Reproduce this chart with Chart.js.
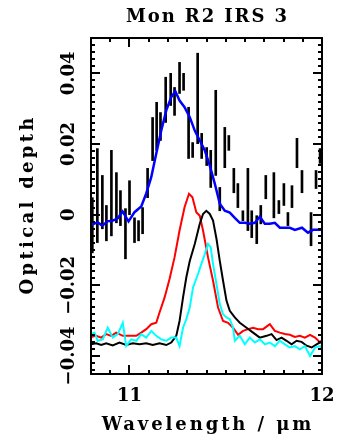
<!DOCTYPE html>
<html>
<head>
<meta charset="utf-8">
<script src="https://cdn.jsdelivr.net/npm/chart.js@4"></script>
<style>
  html, body { margin: 0; padding: 0; background: #fff; }
  canvas { display: block; }
</style>
</head>
<body>
<canvas id="chart" width="339" height="441"></canvas>
<script>
const titleText = 'Mon R2 IRS 3';
const xTitle = 'Wavelength / \u03bcm';
const yTitle = 'Optical depth';
const xTicks = [11, 12];
const yTicks = [-0.04, -0.02, 0, 0.02, 0.04];

// observed spectrum: low/high end of each error bar
const obsWave = [10.807, 10.833, 10.859, 10.880, 10.906, 10.932, 10.953, 10.979, 11.000, 11.026,
  11.047, 11.068, 11.094, 11.120, 11.141, 11.161, 11.188, 11.214, 11.234, 11.260,
  11.281, 11.307, 11.328, 11.354, 11.375, 11.401, 11.422, 11.448, 11.469, 11.495,
  11.516, 11.542, 11.563, 11.589, 11.615, 11.635, 11.661, 11.682, 11.708, 11.750,
  11.776, 11.802, 11.823, 11.844, 11.870, 11.896, 11.943, 11.969, 11.990];
const obsLow = [-0.0108, -0.0079, -0.0040, -0.0074, -0.0060, -0.0023, -0.0031, -0.0125, 0.0000, -0.0079,
  -0.0074, -0.0054, 0.0048, 0.0153, 0.0182, 0.0210, 0.0261, 0.0309, 0.0281, 0.0343,
  0.0352, 0.0159, 0.0162, 0.0201, 0.0159, 0.0139, 0.0077, 0.0111, 0.0011, 0.0133,
  0.0182, 0.0062, 0.0020, -0.0017, -0.0045, -0.0065, -0.0082, -0.0026, 0.0045, -0.0009,
  0.0003, 0.0026, -0.0031, 0.0020, 0.0133, 0.0062, -0.0088, 0.0074, 0.0145];
const obsHigh = [0.0048, 0.0187, 0.0111, 0.0026, 0.0182, 0.0119, 0.0068, 0.0017, 0.0096, -0.0009,
  -0.0017, 0.0020, 0.0131, 0.0275, 0.0318, 0.0289, 0.0389, 0.0400, 0.0360, 0.0431,
  0.0400, 0.0304, 0.0204, 0.0457, 0.0230, 0.0190, 0.0182, 0.0352, 0.0077, 0.0247,
  0.0224, 0.0131, 0.0088, 0.0011, 0.0131, 0.0011, -0.0003, 0.0026, 0.0111, 0.0119,
  0.0040, 0.0088, 0.0006, 0.0082, 0.0216, 0.0125, 0.0006, 0.0125, 0.0187];

// smoothed profile (blue)
const blueWave = [10.800, 10.835, 10.859, 10.885, 10.911, 10.938, 10.964, 10.995, 11.026, 11.061,
  11.087, 11.113, 11.139, 11.165, 11.191, 11.217, 11.238, 11.260, 11.286, 11.313,
  11.339, 11.365, 11.391, 11.417, 11.443, 11.469, 11.495, 11.521, 11.547, 11.573,
  11.599, 11.625, 11.651, 11.677, 11.703, 11.729, 11.755, 11.781, 11.807, 11.833,
  11.859, 11.896, 11.927, 11.953, 11.990, 12.000];
const blueTau = [-0.0029, -0.0022, -0.0031, -0.0019, -0.0017, -0.0011, 0.0009, -0.0019, 0.0007, 0.0023,
  0.0060, 0.0106, 0.0173, 0.0238, 0.0295, 0.0333, 0.0349, 0.0323, 0.0304, 0.0276,
  0.0238, 0.0210, 0.0182, 0.0139, 0.0088, 0.0031, 0.0011, 0.0006, -0.0009, -0.0023,
  -0.0023, -0.0026, -0.0023, -0.0006, -0.0026, -0.0026, -0.0023, -0.0037, -0.0037, -0.0037,
  -0.0043, -0.0037, -0.0051, -0.0043, -0.0043, -0.0043];

// laboratory spectra, offset
const redWave = [10.800, 10.827, 10.853, 10.879, 10.905, 10.931, 10.965, 11.000, 11.035, 11.061,
  11.087, 11.113, 11.139, 11.156, 11.182, 11.208, 11.234, 11.260, 11.286, 11.309,
  11.327, 11.347, 11.365, 11.382, 11.408, 11.434, 11.460, 11.486, 11.512, 11.538,
  11.564, 11.590, 11.616, 11.642, 11.668, 11.694, 11.729, 11.755, 11.781, 11.807,
  11.833, 11.859, 11.885, 11.911, 11.938, 11.964, 11.990, 12.000];
const redTau = [-0.0346, -0.0343, -0.0348, -0.0338, -0.0343, -0.0334, -0.0343, -0.0343, -0.0343, -0.0334,
  -0.0324, -0.0310, -0.0306, -0.0277, -0.0235, -0.0182, -0.0121, -0.0045, 0.0021, 0.0059,
  0.0049, 0.0007, -0.0003, -0.0045, -0.0121, -0.0187, -0.0263, -0.0301, -0.0306, -0.0320,
  -0.0340, -0.0329, -0.0324, -0.0320, -0.0324, -0.0324, -0.0310, -0.0329, -0.0334, -0.0338,
  -0.0340, -0.0346, -0.0343, -0.0348, -0.0340, -0.0348, -0.0362, -0.0355];

const blackWave = [10.800, 10.827, 10.853, 10.879, 10.913, 10.948, 10.983, 11.017, 11.052, 11.087,
  11.121, 11.156, 11.191, 11.217, 11.243, 11.260, 11.278, 11.295, 11.313, 11.339,
  11.365, 11.382, 11.399, 11.417, 11.434, 11.452, 11.469, 11.486, 11.504, 11.521,
  11.547, 11.573, 11.608, 11.642, 11.677, 11.712, 11.738, 11.764, 11.790, 11.816,
  11.842, 11.868, 11.894, 11.920, 11.946, 11.972, 11.998];
const blackTau = [-0.0367, -0.0364, -0.0369, -0.0364, -0.0370, -0.0362, -0.0369, -0.0364, -0.0367, -0.0364,
  -0.0369, -0.0364, -0.0369, -0.0362, -0.0343, -0.0301, -0.0235, -0.0178, -0.0131, -0.0083,
  -0.0026, 0.0002, 0.0011, 0.0002, -0.0017, -0.0069, -0.0131, -0.0187, -0.0244, -0.0272,
  -0.0291, -0.0306, -0.0320, -0.0334, -0.0348, -0.0343, -0.0338, -0.0355, -0.0348, -0.0357,
  -0.0367, -0.0357, -0.0360, -0.0371, -0.0376, -0.0367, -0.0359];

const cyanWave = [10.800, 10.818, 10.835, 10.861, 10.887, 10.913, 10.939, 10.965, 10.983, 11.009,
  11.035, 11.061, 11.087, 11.113, 11.139, 11.165, 11.191, 11.217, 11.243, 11.260,
  11.278, 11.295, 11.313, 11.330, 11.356, 11.373, 11.391, 11.408, 11.422, 11.434,
  11.452, 11.469, 11.486, 11.504, 11.521, 11.538, 11.547, 11.573, 11.599, 11.625,
  11.651, 11.677, 11.703, 11.729, 11.755, 11.781, 11.807, 11.833, 11.859, 11.885,
  11.911, 11.938, 11.964, 11.990, 12.000];
const cyanTau = [-0.0338, -0.0334, -0.0357, -0.0353, -0.0320, -0.0348, -0.0338, -0.0306, -0.0372, -0.0353,
  -0.0357, -0.0338, -0.0348, -0.0329, -0.0343, -0.0353, -0.0357, -0.0348, -0.0348, -0.0372,
  -0.0320, -0.0296, -0.0263, -0.0206, -0.0168, -0.0140, -0.0112, -0.0083, -0.0093, -0.0140,
  -0.0197, -0.0253, -0.0282, -0.0291, -0.0296, -0.0320, -0.0357, -0.0343, -0.0367, -0.0348,
  -0.0362, -0.0353, -0.0367, -0.0362, -0.0372, -0.0357, -0.0367, -0.0376, -0.0372, -0.0381,
  -0.0372, -0.0400, -0.0376, -0.0372, -0.0381];

const pairs = (xs, ys) => xs.map((x, i) => ({x: x, y: ys[i]}));
const FONT = 'bold 18px "DejaVu Serif"';

const fmtY = v => v === 0 ? '0' : (v < 0 ? '\u2212' : '') + Math.abs(v).toFixed(2);

function spacedText(ctx, text, x, y, spacing) {
    ctx.letterSpacing = spacing + 'px';
    // letterSpacing adds trailing space too, shift half of it back
    ctx.fillText(text, x + spacing / 2, y);
    ctx.letterSpacing = '0px';
}

// frame, inward ticks on all four sides, labels
const framePlugin = {
    id: 'frame',
    afterDatasetsDraw(chart) {
        const ctx = chart.ctx;
        const a = chart.chartArea;
        const xs = chart.scales.x;
        const ys = chart.scales.y;
        ctx.save();
        ctx.strokeStyle = '#000';
        ctx.lineWidth = 2;
        ctx.strokeRect(a.left, a.top, a.right - a.left, a.bottom - a.top);

        ctx.beginPath();
        for (let k = 108; k <= 120; k++) {
            const v = k / 10;
            const px = Math.round(xs.getPixelForValue(v));
            const len = xTicks.includes(v) ? 9 : 4;
            ctx.moveTo(px, a.bottom); ctx.lineTo(px, a.bottom - len);
            ctx.moveTo(px, a.top); ctx.lineTo(px, a.top + len);
        }
        for (let k = -22; k <= 25; k++) {
            const v = k / 500;
            const py = Math.round(ys.getPixelForValue(v));
            if (py < a.top || py > a.bottom) continue;
            const len = k % 10 === 0 ? 9 : 4;
            ctx.moveTo(a.left, py); ctx.lineTo(a.left + len, py);
            ctx.moveTo(a.right, py); ctx.lineTo(a.right - len, py);
        }
        ctx.stroke();

        ctx.fillStyle = '#000';
        ctx.font = FONT;
        ctx.textAlign = 'center';
        ctx.textBaseline = 'middle';
        xTicks.forEach(v => ctx.fillText(String(v), xs.getPixelForValue(v), 396));
        yTicks.forEach(v => {
            ctx.save();
            ctx.translate(69, ys.getPixelForValue(v));
            ctx.rotate(-Math.PI / 2);
            ctx.fillText(fmtY(v), 0, 0);
            ctx.restore();
        });
        spacedText(ctx, xTitle, (a.left + a.right) / 2, 425, 2.9);
        spacedText(ctx, titleText, (a.left + a.right) / 2, 17, 1.9);
        ctx.save();
        ctx.translate(28, (a.top + a.bottom) / 2);
        ctx.rotate(-Math.PI / 2);
        spacedText(ctx, yTitle, 0, 0, 3.3);
        ctx.restore();
        ctx.restore();
    }
};

const lineStyle = color => ({
    type: 'line', borderColor: color, borderWidth: 2, pointRadius: 0, tension: 0, fill: false
});

new Chart(document.getElementById('chart'), {
    type: 'line',
    data: {
        datasets: [
            Object.assign(lineStyle('#00ffff'), {label: 'lab cyan', data: pairs(cyanWave, cyanTau), order: 1}),
            Object.assign(lineStyle('#000000'), {label: 'lab black', data: pairs(blackWave, blackTau), order: 2}),
            Object.assign(lineStyle('#ff0000'), {label: 'lab red', data: pairs(redWave, redTau), order: 3}),
            Object.assign(lineStyle('#0000ff'), {label: 'smoothed', data: pairs(blueWave, blueTau), order: 4, borderWidth: 2.5}),
            {
                type: 'bar',
                label: 'observed',
                data: obsWave.map((x, i) => ({x: x, y: [obsLow[i], obsHigh[i]]})),
                backgroundColor: '#000',
                barThickness: 2,
                grouped: false,
                order: 5
            }
        ]
    },
    options: {
        responsive: false,
        animation: false,
        devicePixelRatio: 1,
        layout: {padding: {left: 91, right: 17, top: 38, bottom: 67}},
        plugins: {legend: {display: false}, tooltip: {enabled: false}, title: {display: false}},
        scales: {
            x: {type: 'linear', min: 10.8, max: 12, offset: false, display: false},
            y: {type: 'linear', min: -0.0451, max: 0.05, display: false}
        }
    },
    plugins: [framePlugin]
});
</script>
</body>
</html>
